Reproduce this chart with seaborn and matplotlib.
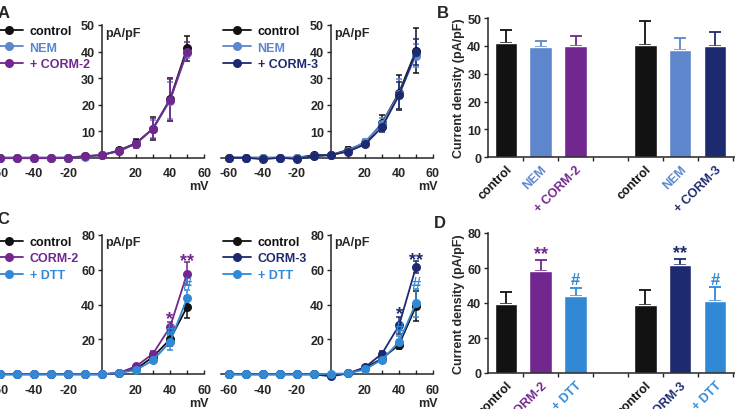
import numpy as np
import pandas as pd
import matplotlib
matplotlib.use('Agg')
import matplotlib.pyplot as plt
from matplotlib.lines import Line2D
from matplotlib.ticker import MultipleLocator, FixedLocator
import seaborn as sns

sns.set_style('ticks')
plt.rcParams['font.family'] = ['Liberation Sans', 'DejaVu Sans']
plt.rcParams['font.weight'] = 'bold'
plt.rcParams['axes.linewidth'] = 1.1
plt.rcParams['axes.unicode_minus'] = False

BLACK = '#121212'
NEM_C = '#5d86cc'
CORM2_C = '#71278e'
CORM3_C = '#1e2a6f'
DTT_C = '#3189d6'

# ---------------- data ----------------
voltage = [-60, -50, -40, -30, -20, -10, 0, 10, 20, 30, 40, 50]

# Panel A, left: control / NEM / + CORM-2
a1_control = [0, 0, 0, 0, 0, 0.6, 1, 2.8, 5.5, 11, 22, 41.2]
a1_control_err = [0.3, 0.3, 0.3, 0.3, 0.3, 0.3, 0.3, 1.0, 1.5, 4.5, 8.0, 4.6]
a1_nem = [0, 0, 0, 0, 0, 0.4, 1, 2.5, 5.3, 10.8, 21.5, 39.6]
a1_nem_err = [0.3, 0.3, 0.3, 0.3, 0.3, 0.3, 0.3, 0.8, 1.2, 3.5, 7.0, 2.1]
a1_corm2 = [-0.2, -0.2, -0.2, -0.2, -0.1, 0.5, 1, 2.5, 5.3, 11, 21.8, 40.0]
a1_corm2_err = [0.3, 0.3, 0.3, 0.3, 0.3, 0.3, 0.3, 0.8, 1.5, 4.0, 8.0, 3.6]

# Panel A, right: control / NEM / + CORM-3
a2_control = [0, 0, 0, 0, 0, 1.0, 1, 3.0, 5.5, 13, 24.5, 40.3]
a2_control_err = [0.3, 0.3, 0.3, 0.3, 0.3, 0.3, 0.3, 1.0, 1.0, 3.0, 6.5, 8.5]
a2_nem = [0, 0, 0, 0, 0, 0.6, 1, 2.6, 6.0, 12.8, 24.0, 38.5]
a2_nem_err = [0.3, 0.3, 0.3, 0.3, 0.3, 0.3, 0.3, 0.8, 1.0, 2.0, 5.5, 4.5]
a2_corm3 = [0, 0, -0.6, 0, -0.5, 0.6, 1, 2.3, 5.0, 11.5, 23.5, 39.8]
a2_corm3_err = [0.3, 0.3, 0.3, 0.3, 0.3, 0.3, 0.3, 0.8, 1.0, 2.0, 5.0, 5.0]

# Panel C, left: control / CORM-2 / + DTT
c1_control = [0, 0, 0, 0, 0, 0, 0, 0.8, 3.0, 10, 20, 38.5]
c1_control_err = [0.3, 0.3, 0.3, 0.3, 0.3, 0.3, 0.3, 0.5, 1.0, 1.5, 3.5, 6.5]
c1_corm2 = [0, 0, 0, 0, 0, 0, 0, 0.8, 4.6, 11.8, 27, 57.6]
c1_corm2_err = [0.3, 0.3, 0.3, 0.3, 0.3, 0.3, 0.3, 0.5, 1.0, 1.5, 3.0, 6.7]
c1_dtt = [0, 0, 0, 0, 0, 0, 0, 0.8, 2.4, 8.0, 18.5, 43.5]
c1_dtt_err = [0.3, 0.3, 0.3, 0.3, 0.3, 0.3, 0.3, 0.5, 1.0, 1.5, 4.5, 5.0]

# Panel C, right: control / CORM-3 / + DTT
c2_control = [0, 0, 0, 0, 0, 0, -0.5, 0.5, 3.6, 9.0, 17, 39.0]
c2_control_err = [0.3, 0.3, 0.3, 0.3, 0.3, 0.3, 0.3, 0.5, 1.0, 1.5, 2.5, 8.6]
c2_corm3 = [0, 0, 0, 0, 0, 0, -1.2, 0.5, 4.0, 11.8, 28, 61.5]
c2_corm3_err = [0.3, 0.3, 0.3, 0.3, 0.3, 0.3, 0.3, 0.5, 1.0, 1.5, 5.0, 3.2]
c2_dtt = [0, 0, 0, 0, 0, 0, 0.3, 0.5, 2.8, 8.4, 18.5, 40.8]
c2_dtt_err = [0.3, 0.3, 0.3, 0.3, 0.3, 0.3, 0.3, 0.5, 1.0, 1.5, 3.5, 8.1]

# Panel B bars
b_labels = ['control', 'NEM', '+ CORM-2', 'control', 'NEM', '+ CORM-3']
b_values = [41.2, 39.6, 40.0, 40.3, 38.5, 39.8]
b_errors = [4.6, 2.1, 3.6, 8.5, 4.5, 5.0]

# Panel D bars
d_labels = ['control', 'CORM-2', '+ DTT', 'control', 'CORM-3', '+ DTT']
d_values = [39.6, 58.1, 43.8, 39.0, 61.9, 41.0]
d_errors = [6.5, 6.7, 5.0, 8.6, 3.2, 8.1]
d_marks = ['', '**', '#', '', '**', '#']

bar_positions = [0, 1, 2, 4, 5, 6]

W, H = 735, 410
fig = plt.figure(figsize=(W / 100, H / 100), dpi=100)


def px_axes(left, bottom_px, right, top_px):
    return fig.add_axes([left / W, 1 - bottom_px / H, (right - left) / W, (bottom_px - top_px) / H])


FS = 9
STAR_FS = 13


def iv_panel(ax, series, ymax, ystep, legend_xy, stars=()):
    rows = []
    for name, vals, _err, _c in series:
        for v, i in zip(voltage, vals):
            rows.append({'V': v, 'I': i, 'cond': name})
    df = pd.DataFrame(rows)
    pal = {name: c for name, _v, _e, c in series}
    sns.lineplot(data=df, x='V', y='I', hue='cond', palette=pal, ax=ax, marker='o',
                 markersize=6.5, markeredgewidth=0, linewidth=1.3, legend=False,
                 clip_on=False, zorder=3)
    for name, vals, err, c in series:
        ax.errorbar(voltage, vals, yerr=err, fmt='none', ecolor=c, elinewidth=1.1,
                    capsize=2.5, capthick=1.1, clip_on=False, zorder=2)
    ax.set_xlim(-65, 60)
    ax.set_ylim(0, ymax)
    for s in ['top', 'right']:
        ax.spines[s].set_visible(False)
    ax.spines['left'].set_position(('data', 0))
    ax.spines['bottom'].set_position(('data', 0))
    ax.set_xticks([-60, -40, -20, 20, 40, 60])
    ax.xaxis.set_minor_locator(FixedLocator(list(range(-60, 61, 10))))
    ax.tick_params(axis='x', which='both', direction='in', length=3, width=1, pad=7, labelsize=FS)
    ax.set_yticks(list(range(ystep, ymax + 1, ystep)))
    ax.tick_params(axis='y', direction='out', length=3, width=1, pad=2, labelsize=FS)
    ax.set_xlabel('')
    ax.set_ylabel('')
    ax.patch.set_visible(False)
    ax.annotate('mV', xy=(60, 0), xytext=(3, -20.5), textcoords='offset points',
                ha='right', va='center', fontsize=FS, fontweight='bold')
    ax.annotate('pA/pF', xy=(0, ymax), xytext=(2.5, -5.5), textcoords='offset points',
                ha='left', va='center', fontsize=FS, fontweight='bold')
    handles = [Line2D([0], [0], color=c, marker='o', markersize=6.5, markeredgewidth=0, lw=1.3)
               for _n, _v, _e, c in series]
    leg = ax.legend(handles, [n for n, _v, _e, _c in series], loc='upper left',
                    bbox_to_anchor=(legend_xy[0] / W, 1 - legend_xy[1] / H),
                    bbox_transform=fig.transFigure, frameon=False, borderpad=0,
                    borderaxespad=0, handlelength=2.3, handletextpad=0.5,
                    labelspacing=0.36, fontsize=FS)
    for t, (_n, _v, _e, c) in zip(leg.get_texts(), series):
        t.set_color(c)
        t.set_fontweight('bold')
    for (x, y, txt, c) in stars:
        fs = STAR_FS if '*' in txt else STAR_FS - 1
        ax.text(x, y, txt, ha='center', va='center', color=c, fontsize=fs, fontweight='bold')


# Panel A
axA1 = px_axes(-8.5, 158.7, 204, 26)
iv_panel(axA1, [('control', a1_control, a1_control_err, BLACK),
                ('NEM', a1_nem, a1_nem_err, NEM_C),
                ('+ CORM-2', a1_corm2, a1_corm2_err, CORM2_C)], 50, 10, (-5.5, 26))
axA2 = px_axes(220.5, 158.7, 433, 26)
iv_panel(axA2, [('control', a2_control, a2_control_err, BLACK),
                ('NEM', a2_nem, a2_nem_err, NEM_C),
                ('+ CORM-3', a2_corm3, a2_corm3_err, CORM3_C)], 50, 10, (222.5, 26))

# Panel C
axC1 = px_axes(-8.5, 375.3, 204, 235.7)
iv_panel(axC1, [('control', c1_control, c1_control_err, BLACK),
                ('CORM-2', c1_corm2, c1_corm2_err, CORM2_C),
                ('+ DTT', c1_dtt, c1_dtt_err, DTT_C)], 80, 20, (-5.5, 237),
         stars=[(40, 32, '*', CORM2_C), (50, 65, '**', CORM2_C),
                (40, 25, '#', DTT_C), (50, 52, '#', DTT_C)])
axC2 = px_axes(220.5, 375.3, 433, 235.7)
iv_panel(axC2, [('control', c2_control, c2_control_err, BLACK),
                ('CORM-3', c2_corm3, c2_corm3_err, CORM3_C),
                ('+ DTT', c2_dtt, c2_dtt_err, DTT_C)], 80, 20, (222.5, 237),
         stars=[(40, 35, '*', CORM3_C), (50, 66, '**', CORM3_C),
                (40, 26, '#', DTT_C), (50, 52, '#', DTT_C)])


def bar_panel(ax, labels, values, errors, colors, ymax, ystep, marks=None):
    keys = [f'k{i}' for i in range(len(labels))]
    df = pd.DataFrame({'pos': bar_positions, 'val': values, 'key': keys})
    sns.barplot(data=df, x='pos', y='val', hue='key', palette=dict(zip(keys, colors)),
                native_scale=True, width=0.64, dodge=False, errorbar=None, saturation=1,
                legend=False, ax=ax, zorder=2)
    for p, v, e, c in zip(bar_positions, values, errors, colors):
        ax.errorbar([p], [v], yerr=[[0], [e]], fmt='none', ecolor=c, elinewidth=1.3,
                    capsize=4, capthick=1.3, zorder=1)
    ax.set_xlim(-0.5, 6.6)
    ax.set_ylim(0, ymax)
    for s in ['top', 'right']:
        ax.spines[s].set_visible(False)
    ax.set_xticks(bar_positions)
    ax.set_xticklabels(labels, rotation=45, ha='right', rotation_mode='anchor', fontsize=FS,
                       fontweight='bold')
    for t, c in zip(ax.get_xticklabels(), colors):
        t.set_color(c)
    ax.xaxis.set_minor_locator(FixedLocator([0.5, 1.5, 2.5, 3.5, 4.5, 5.5, 6.5]))
    ax.tick_params(axis='x', which='major', length=0, pad=4)
    ax.tick_params(axis='x', which='minor', direction='out', length=3, width=1)
    ax.set_yticks(list(range(0, ymax + 1, ystep)))
    ax.tick_params(axis='y', direction='out', length=3, width=1, labelsize=FS, pad=2)
    ax.set_xlabel('')
    ax.set_ylabel('Current density (pA/pF)', fontsize=FS, fontweight='bold', labelpad=1.5)
    ax.patch.set_visible(False)
    if marks:
        for p, v, e, m, c in zip(bar_positions, values, errors, marks, colors):
            if m:
                fs = STAR_FS if '*' in m else STAR_FS - 1
                ax.text(p, v + e + (3.5 if '*' in m else 4.5), m, ha='center', va='center',
                        color=c, fontsize=fs, fontweight='bold')


axB = px_axes(488.3, 158.3, 488.3 + 7.1 * 34.9, 19)
bar_panel(axB, b_labels, b_values, b_errors,
          [BLACK, NEM_C, CORM2_C, BLACK, NEM_C, CORM3_C], 50, 10)

axD = px_axes(488.3, 374, 488.3 + 7.1 * 34.9, 234)
bar_panel(axD, d_labels, d_values, d_errors,
          [BLACK, CORM2_C, DTT_C, BLACK, CORM3_C, DTT_C], 80, 20, d_marks)

for letter, x, y in [('A', 4, 13), ('B', 443, 13), ('C', 3, 220), ('D', 440, 224)]:
    fig.text(x / W, 1 - y / H, letter, fontsize=12, fontweight='bold', ha='center', va='center')

fig.savefig('out.png', dpi=100)
